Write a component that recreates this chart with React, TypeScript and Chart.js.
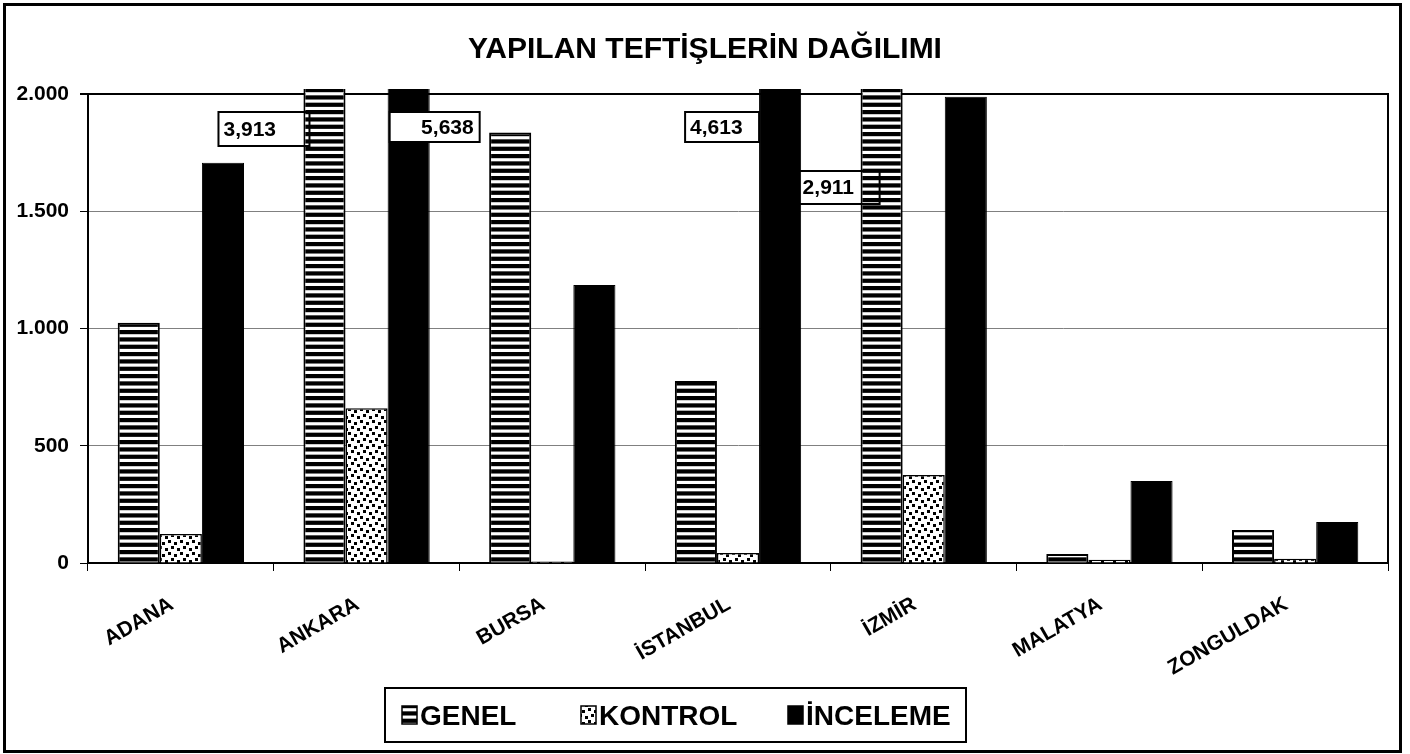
import React, { useEffect, useRef } from "react";
import { Chart, registerables } from "chart.js";

Chart.register(...registerables);

const FONT = "'Liberation Sans', Arial, Helvetica, sans-serif";

const categories = ["ADANA", "ANKARA", "BURSA", "İSTANBUL", "İZMİR", "MALATYA", "ZONGULDAK"];
const seriesNames = ["GENEL", "KONTROL", "İNCELEME"];
const genel = [1025, 3913, 1836, 776, 2911, 38, 141];
const kontrol = [124, 660, 6, 43, 375, 14, 18];
const inceleme = [1707, 5638, 1185, 4613, 1988, 350, 175];
const yTickValues = [0, 500, 1000, 1500, 2000];
const yMax = 2000;
const chartTitle = "YAPILAN TEFTİŞLERİN DAĞILIMI";

// value boxes for bars that run past the axis maximum (placement relative to the bar)
const overflowBoxes = [
  { ds: 0, cat: 1, left: -106, right: -15, top: 18, height: 34, align: "left", under: true },
  { ds: 2, cat: 1, left: -19, right: 71, top: 18, height: 30, align: "right", under: false },
  { ds: 2, cat: 3, left: -95, right: -21, top: 18, height: 30, align: "left", under: false },
  { ds: 0, cat: 4, left: -84, right: -2, top: 77, height: 33, align: "left", under: true },
];

function makeStripePattern(): CanvasPattern | string {
  const c = document.createElement("canvas");
  c.width = 8;
  c.height = 22;
  const g = c.getContext("2d");
  if (!g) return "#000";
  g.fillStyle = "#fff";
  g.fillRect(0, 0, 8, 22);
  g.fillStyle = "#000";
  for (let i = 0; i < 3; i++) g.fillRect(0, (i * 22) / 3, 8, 4.2);
  return g.createPattern(c, "repeat") || "#000";
}

function makeDotPattern(): CanvasPattern | string {
  const c = document.createElement("canvas");
  c.width = 12;
  c.height = 12;
  const g = c.getContext("2d");
  if (!g) return "#888";
  g.fillStyle = "#fff";
  g.fillRect(0, 0, 12, 12);
  g.fillStyle = "#000";
  const dots = [
    [0, 0],
    [6, 2],
    [3, 6],
    [9, 8],
  ];
  dots.forEach(([x, y]) => g.fillRect(x, y, 3, 3));
  return g.createPattern(c, "repeat") || "#888";
}

export default function App() {
  const ref = useRef<HTMLCanvasElement | null>(null);

  useEffect(() => {
    if (!ref.current) return;
    const stripe = makeStripePattern();
    const dots = makeDotPattern();
    const seriesValues = [genel, kontrol, inceleme];
    const fills = [stripe, dots, "#000"];

    const boxRect = (chart: any, b: any) => {
      const bar = chart.getDatasetMeta(b.ds).data[b.cat];
      return {
        x: bar.x + b.left,
        y: chart.chartArea.top + b.top,
        w: b.right - b.left,
        h: b.height,
      };
    };

    const decor = {
      id: "decor",
      beforeDatasetsDraw(chart: any) {
        const { ctx, chartArea: a } = chart;
        ctx.save();
        ctx.strokeStyle = "#000";
        ctx.lineWidth = 2;
        ctx.beginPath();
        ctx.moveTo(a.right, a.top - 1);
        ctx.lineTo(a.right, a.bottom);
        ctx.stroke();
        overflowBoxes.forEach((b) => {
          if (!b.under) return;
          const r = boxRect(chart, b);
          ctx.fillStyle = "#fff";
          ctx.fillRect(r.x, r.y, r.w, r.h);
        });
        ctx.restore();
      },
      afterDatasetsDraw(chart: any) {
        const { ctx } = chart;
        ctx.save();
        overflowBoxes.forEach((b) => {
          const r = boxRect(chart, b);
          if (!b.under) {
            ctx.fillStyle = "#fff";
            ctx.fillRect(r.x, r.y, r.w, r.h);
          }
          ctx.strokeStyle = "#000";
          ctx.lineWidth = 2;
          ctx.strokeRect(r.x, r.y, r.w, r.h);
          const txt = seriesValues[b.ds][b.cat].toLocaleString("en-US");
          ctx.fillStyle = "#000";
          ctx.font = `bold 21px ${FONT}`;
          ctx.textBaseline = "middle";
          if (b.align === "left") {
            ctx.textAlign = "left";
            ctx.fillText(txt, r.x + 5, r.y + r.h / 2 + 1);
          } else {
            ctx.textAlign = "right";
            ctx.fillText(txt, r.x + r.w - 6, r.y + r.h / 2 + 1);
          }
        });
        ctx.restore();
      },
      afterDraw(chart: any) {
        const { ctx } = chart;
        ctx.save();
        // legend
        ctx.strokeStyle = "#000";
        ctx.lineWidth = 2;
        ctx.fillStyle = "#fff";
        ctx.fillRect(385, 688, 581, 54);
        ctx.strokeRect(385, 688, 581, 54);
        const textX = [420, 599, 806];
        ctx.font = `bold 28px ${FONT}`;
        ctx.textAlign = "left";
        ctx.textBaseline = "alphabetic";
        seriesNames.forEach((name, i) => {
          const ix = textX[i] - 18;
          ctx.fillStyle = fills[i] as any;
          ctx.fillRect(ix, 706, 15, 18);
          ctx.strokeStyle = "#000";
          ctx.lineWidth = 1.5;
          ctx.strokeRect(ix, 706, 15, 18);
          ctx.fillStyle = "#000";
          ctx.fillText(name, textX[i], 725);
        });
        // outer frame
        ctx.strokeStyle = "#000";
        ctx.lineWidth = 3;
        ctx.strokeRect(4.5, 4.5, 1396, 747);
        ctx.restore();
      },
    };

    const chart = new Chart(ref.current, {
      type: "bar",
      data: {
        labels: categories,
        datasets: seriesNames.map((name, i) => ({
          label: name,
          data: seriesValues[i],
          backgroundColor: fills[i] as any,
          borderColor: "#000",
          borderWidth: i === 0 ? 2 : i === 1 ? 1.5 : 1,
          barPercentage: 1,
          categoryPercentage: 0.68,
          clip: { left: 0, right: 0, top: 5, bottom: 0 } as any,
        })),
      },
      options: {
        animation: false,
        responsive: false,
        devicePixelRatio: 1,
        layout: { padding: { left: 0, right: 0, top: 0, bottom: 0 } },
        plugins: {
          legend: { display: false },
          tooltip: { enabled: false },
          title: {
            display: true,
            text: chartTitle,
            color: "#000",
            font: { family: FONT, size: 30, weight: "bold" },
            padding: { top: 32, bottom: 26 },
          },
        },
        scales: {
          x: {
            grid: {
              display: true,
              drawOnChartArea: false,
              drawTicks: true,
              tickLength: 8,
              color: "#000",
              tickColor: "#000",
              offset: true,
            },
            border: { display: true, color: "#000", width: 2 },
            ticks: {
              color: "#000",
              font: { family: FONT, size: 21, weight: "bold" },
              minRotation: 30,
              maxRotation: 30,
              autoSkip: false,
              padding: 21,
              labelOffset: -9,
            },
            afterFit: (s: any) => {
              s.height = 191;
            },
          },
          y: {
            min: 0,
            max: yMax,
            afterBuildTicks: (s: any) => {
              s.ticks = yTickValues.map((v) => ({ value: v }));
            },
            grid: {
              color: (c: any) => (c.tick && c.tick.value === yMax ? "#000" : "#808080"),
              lineWidth: (c: any) => (c.tick && c.tick.value === yMax ? 2 : 1),
              drawTicks: true,
              tickLength: 8,
              tickColor: "#000",
            },
            border: { display: true, color: "#000", width: 2 },
            ticks: {
              color: "#000",
              padding: 11,
              font: { family: FONT, size: 21, weight: "bold" },
              callback: (v: any) => Number(v).toLocaleString("de-DE"),
            },
            afterFit: (s: any) => {
              s.width = 88;
            },
          },
          yRight: {
            position: "right",
            min: 0,
            max: yMax,
            grid: { display: false, drawTicks: false },
            border: { display: false },
            ticks: { display: false },
            afterFit: (s: any) => {
              s.width = 22;
            },
          },
        },
      },
      plugins: [decor],
    });
    return () => chart.destroy();
  }, []);

  return (
    <div style={{ position: "absolute", left: 0, top: 0, width: 1410, height: 754, background: "#fff" }}>
      <canvas ref={ref} width={1410} height={754} style={{ display: "block" }} />
    </div>
  );
}
